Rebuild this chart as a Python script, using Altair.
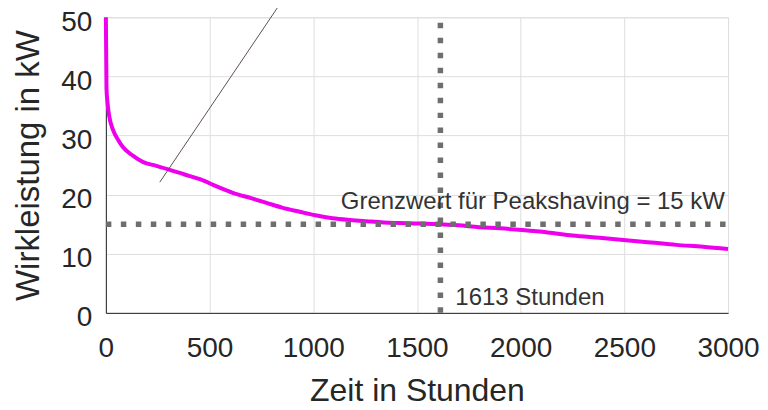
import altair as alt
import pandas as pd

# Load duration curve (hours vs. active power in kW)
hours = [0, 3, 8, 15, 35, 60, 83, 130, 180, 240, 308, 380, 453, 540, 612, 700,
         775, 850, 934, 1010, 1093, 1180, 1257, 1340, 1416, 1510, 1608, 1700,
         1800, 1900, 2008, 2130, 2250, 2380, 2508, 2630, 2750, 2880, 3000]
power = [50, 38, 35.5, 33.5, 30.9, 29.2, 28.0, 26.6, 25.5, 24.9, 24.2, 23.4,
         22.6, 21.3, 20.3, 19.4, 18.6, 17.8, 17.1, 16.5, 16.0, 15.7, 15.5, 15.3,
         15.2, 15.1, 15.0, 14.8, 14.5, 14.3, 14.0, 13.6, 13.1, 12.7, 12.3, 11.9,
         11.5, 11.2, 10.8]

threshold_kw = 15
threshold_hours = 1613
threshold_label = "Grenzwert für Peakshaving = 15 kW"
hours_label = "1613 Stunden"

x_ticks = [0, 500, 1000, 1500, 2000, 2500, 3000]
y_ticks = [0, 10, 20, 30, 40, 50]

# thin annotation pointer line (start / end in data units)
pointer_x = [260, 852]
pointer_y = [22.1, 52.9]

FONT = "Liberation Sans"
DARK = "#262626"

curve_df = pd.DataFrame({"h": hours, "p": power})

xs = alt.Scale(domain=[0, 3000], nice=False)
ys = alt.Scale(domain=[0, 50], nice=False)

x_axis = alt.Axis(values=x_ticks, format="d", labelOverlap=False, labelFlush=False,
                  title="Zeit in Stunden", grid=True,
                  gridColor="#dedede", domainColor=DARK, ticks=False,
                  labelFontSize=28, labelColor=DARK, labelPadding=22,
                  labelFont=FONT, titleFont=FONT, titleFontSize=32,
                  titleFontWeight="normal", titleColor=DARK, titlePadding=13)
y_axis = alt.Axis(values=y_ticks, format="d", labelOverlap=False, labelFlush=False,
                  labelOffset=5,
                  title="Wirkleistung in kW", grid=True,
                  gridColor="#dedede", domainColor=DARK, ticks=False,
                  labelFontSize=28, labelColor=DARK, labelPadding=14,
                  labelFont=FONT, titleFont=FONT, titleFontSize=33,
                  titleFontWeight="normal", titleColor=DARK, titlePadding=15)

curve = alt.Chart(curve_df).mark_line(
    color="#ee00ee", strokeWidth=4, interpolate="monotone"
).encode(
    x=alt.X("h:Q", scale=xs, axis=x_axis),
    y=alt.Y("p:Q", scale=ys, axis=y_axis),
)

hline = alt.Chart(pd.DataFrame({"x": [0], "x2": [3000], "y": [threshold_kw]})).mark_rule(
    color="#6e6e6e", strokeWidth=5.5, strokeDash=[5.5, 9.5]
).encode(x=alt.X("x:Q", scale=xs), x2="x2:Q", y=alt.Y("y:Q", scale=ys))

vline = alt.Chart(pd.DataFrame({"x": [threshold_hours], "y": [0], "y2": [50]})).mark_rule(
    color="#6e6e6e", strokeWidth=5.5, strokeDash=[5.5, 9.5]
).encode(x=alt.X("x:Q", scale=xs), y=alt.Y("y:Q", scale=ys), y2="y2:Q")

label1 = alt.Chart(pd.DataFrame({"x": [2985], "y": [threshold_kw], "t": [threshold_label]})).mark_text(
    align="right", baseline="alphabetic", dy=-15, fontSize=24, font=FONT, color="#333333"
).encode(x=alt.X("x:Q", scale=xs), y=alt.Y("y:Q", scale=ys), text="t:N")

label2 = alt.Chart(pd.DataFrame({"x": [threshold_hours], "y": [0], "t": [hours_label]})).mark_text(
    align="left", baseline="alphabetic", dx=15, dy=-8, fontSize=24, font=FONT, color="#333333"
).encode(x=alt.X("x:Q", scale=xs), y=alt.Y("y:Q", scale=ys), text="t:N")

pointer = alt.Chart(pd.DataFrame({"x": [pointer_x[0]], "x2": [pointer_x[1]],
                                  "y": [pointer_y[0]], "y2": [pointer_y[1]]})).mark_rule(
    color="#5e5050", strokeWidth=1, clip=False
).encode(x=alt.X("x:Q", scale=xs), x2="x2:Q", y=alt.Y("y:Q", scale=ys), y2="y2:Q")

chart = alt.layer(curve, hline, vline, label1, label2, pointer).properties(
    width=623, height=296,
    autosize=alt.AutoSizeParams(type="none"),
    padding={"left": 98, "top": 9, "right": 32, "bottom": 95},
).configure_view(stroke=DARK, strokeWidth=1.2).configure(background="white")

chart.save("out.html", embed_options={"renderer": "svg", "actions": False})
